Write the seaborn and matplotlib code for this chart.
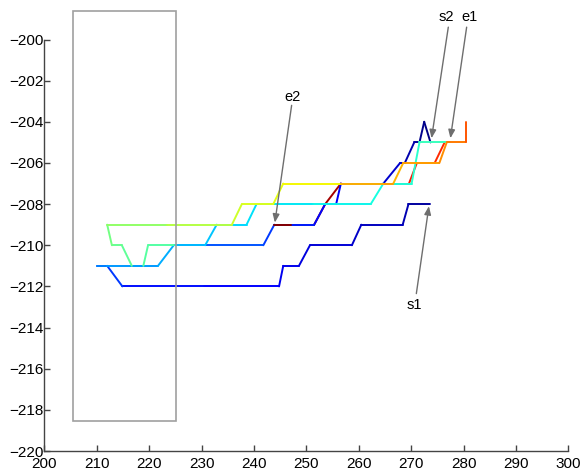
import matplotlib
matplotlib.use("Agg")
import matplotlib.pyplot as plt
from matplotlib.patches import Rectangle
import numpy as np
import pandas as pd
import seaborn as sns

# Each route: vertex coordinates plus one jet colour value per segment.

# Route traced from s1 (bottom staircase, heading west)
s1_x = [273.55, 269.5, 268.4, 260.5, 258.7, 250.7, 248.6, 245.6, 244.8, 230.5, 214.9, 212.0, 210.0]
s1_y = [-208, -208, -209, -209, -210, -210, -211, -211, -212, -212, -212, -211, -211]
s1_c = [0.03, 0.045, 0.055, 0.065, 0.075, 0.085, 0.095, 0.10, 0.11, 0.14, 0.18, 0.21]

# Return leg climbing east towards e1
e1_x = [210.0, 212.0, 221.7, 224.7, 230.7, 232.9, 238.6, 240.5, 251.3, 262.3, 264.7, 270.1, 271.6, 277.4]
e1_y = [-211, -211, -211, -210, -210, -209, -209, -208, -208, -208, -207, -207, -205, -205]
e1_c = [0.25, 0.275, 0.295, 0.305, 0.32, 0.335, 0.345, 0.355, 0.365, 0.375, 0.385, 0.40, 0.42]

# Route traced from s2 (heading west)
s2_x = [273.7, 272.5, 271.6, 270.6, 268.8, 267.9, 264.7, 256.6, 255.7, 253.6, 251.5, 243.9, 241.8, 230.7, 224.7]
s2_y = [-205, -204, -205, -205, -206, -206, -207, -207, -208, -208, -209, -209, -210, -210, -210]
s2_c = [0.005, 0.015, 0.025, 0.04, 0.055, 0.07, 0.09, 0.105, 0.115, 0.13, 0.155, 0.18, 0.21, 0.24]

# Middle leg: loop in the west, then east along the upper staircase
mid_x = [224.7, 219.8, 218.9, 216.7, 214.8, 212.9, 212.0, 223.5, 235.8, 237.7, 243.7, 245.6,
         256.6, 264.7, 266.6, 268.5, 275.4, 276.8, 280.5, 280.5]
mid_y = [-210, -210, -211, -211, -210, -210, -209, -209, -209, -208, -208, -207,
         -207, -207, -207, -206, -206, -205, -205, -204]
mid_c = [0.45, 0.455, 0.28, 0.465, 0.475, 0.49, 0.525, 0.57, 0.60, 0.615, 0.625, 0.645,
         0.72, 0.74, 0.715, 0.74, 0.76, 0.78, 0.82]

# Final leg heading back west to e2
e2_x = [276.4, 274.5, 271.1, 269.6, 256.6, 253.6, 251.5, 247.1]
e2_y = [-205, -206, -206, -207, -207, -208, -209, -209]
e2_c = [0.865, 0.875, 0.885, 0.92, 0.965, 0.985, 0.99]
tail_x = [247.1, 243.9]
tail_y = [-209, -209]
tail_c = [0.995]

# Labels: name, text position, arrow tail, arrow tip
label_names = ["s1", "s2", "e1", "e2"]
label_text_xy = [(270.6, -212.9), (276.8, -198.93), (281.1, -198.93), (247.4, -202.8)]
label_tail_xy = [(271.0, -212.35), (277.1, -199.4), (280.6, -199.4), (247.2, -203.2)]
label_tip_xy = [(273.4, -208.1), (273.9, -204.8), (277.5, -204.8), (244.0, -208.9)]

# Region outline
region_x0, region_x1 = 205.4, 225.1
region_y0, region_y1 = -218.55, -198.6

x_ticks = list(range(200, 301, 10))
y_ticks = list(range(-220, -199, 2))

sns.set_style("ticks")
plt.rcParams["font.family"] = ["Liberation Sans", "DejaVu Sans"]

W, H = 580, 473
fig = plt.figure(figsize=(W / 100, H / 100), dpi=100)
ax_l, ax_r, ax_t, ax_b = 44.3, 568.3, 39.5, 451.0
ax = fig.add_axes([ax_l / W, 1 - ax_b / H, (ax_r - ax_l) / W, (ax_b - ax_t) / H])

jet = matplotlib.colormaps["jet"]


def segments(xs, ys, cs):
    rows = []
    for i, c in enumerate(cs):
        rows.append((xs[i], ys[i], i, c))
        rows.append((xs[i + 1], ys[i + 1], i, c))
    return pd.DataFrame(rows, columns=["x", "y", "seg", "c"])


for xs, ys, cs in [(e2_x, e2_y, e2_c), (s1_x, s1_y, s1_c), (s2_x, s2_y, s2_c),
                   (e1_x, e1_y, e1_c), (mid_x, mid_y, mid_c), (tail_x, tail_y, tail_c)]:
    sns.lineplot(data=segments(xs, ys, cs), x="x", y="y", hue="c", units="seg",
                 estimator=None, sort=False, palette=jet, hue_norm=(0, 1),
                 legend=False, linewidth=1.4, solid_capstyle="round", ax=ax)

ax.add_patch(Rectangle((region_x0, region_y0), region_x1 - region_x0, region_y1 - region_y0,
                       fill=False, edgecolor="#a0a0a0", linewidth=1.2, clip_on=False, zorder=5))

for name, txy, tail, tip in zip(label_names, label_text_xy, label_tail_xy, label_tip_xy):
    ax.annotate("", xy=tip, xytext=tail, annotation_clip=False,
                arrowprops=dict(arrowstyle="-|>,head_length=0.5,head_width=0.2",
                                color="#6e6e6e", lw=1.0, shrinkA=0, shrinkB=0))
    ax.text(txy[0], txy[1], name, ha="center", va="center", fontsize=10.5,
            color="black", clip_on=False)

ax.set_xlim(200, 300)
ax.set_ylim(-220, -200)
ax.set_xticks(x_ticks)
ax.set_yticks(y_ticks)
ax.set_xlabel("")
ax.set_ylabel("")
sns.despine(ax=ax)
for side in ["left", "bottom"]:
    ax.spines[side].set_color("#444444")
    ax.spines[side].set_linewidth(1.0)
ax.tick_params(direction="in", length=4.5, width=1, colors="#444444", labelcolor="black",
               labelsize=11)
ax.tick_params(axis="x", pad=4)
ax.tick_params(axis="y", pad=0.5)

fig.savefig("out.png", dpi=100)
